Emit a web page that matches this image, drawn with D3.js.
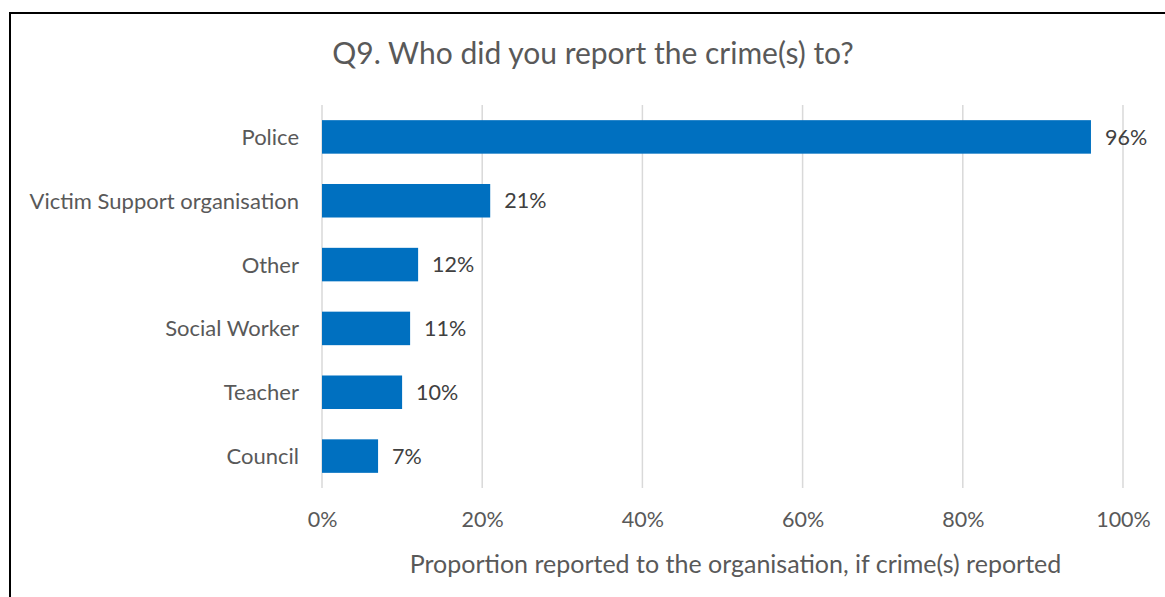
<!DOCTYPE html>
<html>
<head>
<meta charset="utf-8">
<script src="https://cdn.jsdelivr.net/npm/d3@7"></script>
<style>
  html, body { margin: 0; padding: 0; background: #fff; }
  svg { display: block; }
  text { font-family: Lato, "Open Sans", sans-serif; }
</style>
</head>
<body>
<svg id="chart" width="1165" height="597"></svg>
<script>
// Survey responses: share of reported crimes taken to each organisation
const categories = ["Police", "Victim Support organisation", "Other", "Social Worker", "Teacher", "Council"];
const values = [96, 21, 12, 11, 10, 7];
const tickValues = [0, 20, 40, 60, 80, 100];
const tickLabels = ["0%", "20%", "40%", "60%", "80%", "100%"];
const chartTitle = "Q9. Who did you report the crime(s) to?";
const axisTitle = "Proportion reported to the organisation, if crime(s) reported";

const W = 1165, H = 597;
const plot = { left: 322, right: 1123, top: 105, bottom: 488 };
const textColor = "#595959";
const fontFamily = "Lato, 'Open Sans', sans-serif";

const svg = d3.select("#chart");

// outer frame (runs off the right and bottom edges)
svg.append("rect")
  .attr("x", 10).attr("y", 13)
  .attr("width", W + 20).attr("height", H + 20)
  .attr("fill", "#fff")
  .attr("stroke", "#000")
  .attr("stroke-width", 2);

const x = d3.scaleLinear().domain([0, 100]).range([plot.left, plot.right]);
const y = d3.scaleBand()
  .domain(categories)
  .range([plot.top, plot.bottom])
  .paddingInner(0.475)
  .paddingOuter(0.2375);

// vertical gridlines
svg.append("g")
  .selectAll("line")
  .data(tickValues)
  .join("line")
  .attr("x1", d => x(d)).attr("x2", d => x(d))
  .attr("y1", plot.top).attr("y2", plot.bottom)
  .attr("stroke", "#d9d9d9")
  .attr("stroke-width", 1.5);

// x-axis tick labels
const xAxis = d3.axisBottom(x)
  .tickValues(tickValues)
  .tickFormat((d, i) => tickLabels[i])
  .tickSize(0)
  .tickPadding(0);
const gx = svg.append("g")
  .attr("transform", `translate(0, ${plot.bottom})`)
  .call(xAxis);
gx.select(".domain").remove();
gx.selectAll("text")
  .attr("y", 38.5)
  .attr("dy", null)
  .attr("fill", textColor)
  .style("font-size", "21.5px")
  .style("font-family", fontFamily);

// category axis labels
const yAxis = d3.axisLeft(y).tickSize(0).tickPadding(0);
const gy = svg.append("g")
  .attr("transform", `translate(${plot.left - 23}, 0)`)
  .call(yAxis);
gy.select(".domain").remove();
gy.selectAll("text")
  .attr("x", 0)
  .attr("dy", "0.36em")
  .attr("fill", textColor)
  .style("font-size", "22px")
  .style("font-family", fontFamily);

// bars
svg.append("g")
  .selectAll("rect")
  .data(categories)
  .join("rect")
  .attr("x", x(0))
  .attr("y", d => y(d))
  .attr("width", (d, i) => x(values[i]) - x(0))
  .attr("height", y.bandwidth())
  .attr("fill", "#0070c0");

// value labels
svg.append("g")
  .selectAll("text")
  .data(categories)
  .join("text")
  .attr("x", (d, i) => x(values[i]) + 14)
  .attr("y", d => y(d) + y.bandwidth() / 2)
  .attr("dy", "0.36em")
  .attr("fill", "#404040")
  .style("font-size", "21.5px")
  .text((d, i) => values[i] + "%");

// chart title
svg.append("text")
  .attr("x", 593)
  .attr("y", 63.5)
  .attr("text-anchor", "middle")
  .attr("fill", textColor)
  .style("font-size", "30px")
  .text(chartTitle);

// value axis title
svg.append("text")
  .attr("x", 735.5)
  .attr("y", 572.5)
  .attr("text-anchor", "middle")
  .attr("fill", textColor)
  .style("font-size", "25px")
  .text(axisTitle);
</script>
</body>
</html>
